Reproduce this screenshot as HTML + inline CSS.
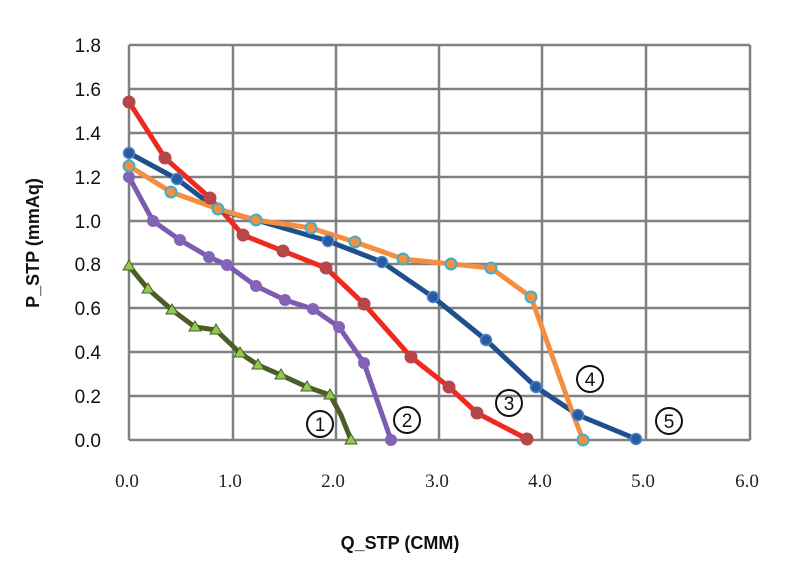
<!DOCTYPE html>
<html><head><meta charset="utf-8"><style>
html,body{margin:0;padding:0;background:#fff;}
svg{display:block;}
</style></head><body>
<svg width="800" height="583" viewBox="0 0 800 583" xmlns="http://www.w3.org/2000/svg">
<rect width="800" height="583" fill="#fff"/>
<g stroke="#808080" stroke-width="2.5" fill="none">
<line x1="129" y1="45" x2="750" y2="45"/>
<line x1="129" y1="89" x2="750" y2="89"/>
<line x1="129" y1="133" x2="750" y2="133"/>
<line x1="129" y1="177" x2="750" y2="177"/>
<line x1="129" y1="221" x2="750" y2="221"/>
<line x1="129" y1="264" x2="750" y2="264"/>
<line x1="129" y1="308" x2="750" y2="308"/>
<line x1="129" y1="352" x2="750" y2="352"/>
<line x1="129" y1="396" x2="750" y2="396"/>
<line x1="129" y1="440" x2="750" y2="440"/>
<line x1="129" y1="45" x2="129" y2="440"/>
<line x1="233" y1="45" x2="233" y2="440"/>
<line x1="336" y1="45" x2="336" y2="440"/>
<line x1="439" y1="45" x2="439" y2="440"/>
<line x1="542" y1="45" x2="542" y2="440"/>
<line x1="646" y1="45" x2="646" y2="440"/>
<line x1="750" y1="45" x2="750" y2="440"/>
</g>
<g font-family="Liberation Sans, sans-serif" font-size="19" fill="#111" text-anchor="end">
<text x="101" y="52">1.8</text><text x="101" y="96">1.6</text><text x="101" y="140">1.4</text>
<text x="101" y="184">1.2</text><text x="101" y="228">1.0</text><text x="101" y="271">0.8</text>
<text x="101" y="315">0.6</text><text x="101" y="359">0.4</text><text x="101" y="403">0.2</text>
<text x="101" y="447">0.0</text>
</g>
<g font-family="Liberation Serif, serif" font-size="19" fill="#222" text-anchor="middle">
<text x="127" y="487">0.0</text><text x="230" y="487">1.0</text><text x="333" y="487">2.0</text>
<text x="437" y="487">3.0</text><text x="540" y="487">4.0</text><text x="643" y="487">5.0</text><text x="747" y="487">6.0</text>
</g>
<text x="400" y="549" font-family="Liberation Sans, sans-serif" font-size="18" font-weight="bold" text-anchor="middle" fill="#111">Q_STP (CMM)</text>
<text transform="translate(39,243) rotate(-90)" font-family="Liberation Sans, sans-serif" font-size="18" font-weight="bold" text-anchor="middle" fill="#111">P_STP (mmAq)</text>

<g fill="none" stroke-width="5" stroke-linejoin="round" stroke-linecap="round">
<polyline stroke="#4a5e25" points="129,266 148,289 172,310 195,327 216,330 240,353 258,365 281,375 307,387 330,395 341,415 351,440"/>
<polyline stroke="#7c5bb0" points="129,177 153,221 180,240 209,257 227,265 256,286 285,300 313,309 339,327 364,363 391,440"/>
<polyline stroke="#ee2a1f" points="129,102 165,158 210,198 243,235 283,251 326,268 364,304 411,357 449,387 477,413 527,439"/>
<polyline stroke="#1f4f8c" points="129,153 177,179 218,210 256,220 328,241 382,262 433,297 486,340 536,387 578,415 636,439"/>
<polyline stroke="#f58f3f" points="129,166 171,192 218,209 256,220 311,228 355,242 403,259 451,264 491,268 531,297 573,414 583,440"/>
</g>
<g fill="#8fc94e" stroke="#4a5e25" stroke-width="1">
<path d="M129,260 l6,10 h-12z"/><path d="M148,283 l6,10 h-12z"/><path d="M172,304 l6,10 h-12z"/><path d="M195,321 l6,10 h-12z"/><path d="M216,324 l6,10 h-12z"/><path d="M240,347 l6,10 h-12z"/><path d="M258,359 l6,10 h-12z"/><path d="M281,369 l6,10 h-12z"/><path d="M307,381 l6,10 h-12z"/><path d="M330,389 l6,10 h-12z"/><path d="M351,434 l6,10 h-12z"/>
</g>
<g fill="#8263b8">
<circle cx="129" cy="177" r="6"/><circle cx="153" cy="221" r="6"/><circle cx="180" cy="240" r="6"/><circle cx="209" cy="257" r="6"/><circle cx="227" cy="265" r="6"/><circle cx="256" cy="286" r="6"/><circle cx="285" cy="300" r="6"/><circle cx="313" cy="309" r="6"/><circle cx="339" cy="327" r="6"/><circle cx="364" cy="363" r="6"/><circle cx="391" cy="440" r="6"/>
</g>
<g fill="#b5474a">
<circle cx="129" cy="102" r="6.5"/><circle cx="165" cy="158" r="6.5"/><circle cx="210" cy="198" r="6.5"/><circle cx="243" cy="235" r="6.5"/><circle cx="283" cy="251" r="6.5"/><circle cx="326" cy="268" r="6.5"/><circle cx="364" cy="304" r="6.5"/><circle cx="411" cy="357" r="6.5"/><circle cx="449" cy="387" r="6.5"/><circle cx="477" cy="413" r="6.5"/><circle cx="527" cy="439" r="6.5"/>
</g>
<g fill="#2a5aa0" stroke="#4a86cc" stroke-width="1.5">
<circle cx="129" cy="153" r="5.5"/><circle cx="177" cy="179" r="5.5"/><circle cx="328" cy="241" r="5.5"/><circle cx="382" cy="262" r="5.5"/><circle cx="433" cy="297" r="5.5"/><circle cx="486" cy="340" r="5.5"/><circle cx="536" cy="387" r="5.5"/><circle cx="578" cy="415" r="5.5"/><circle cx="636" cy="439" r="5.5"/>
</g>
<g fill="#f58f3f" stroke="#3fb0c8" stroke-width="2">
<circle cx="129" cy="166" r="5.5"/><circle cx="171" cy="192" r="5.5"/><circle cx="218" cy="209" r="5.5"/><circle cx="256" cy="220" r="5.5"/><circle cx="311" cy="228" r="5.5"/><circle cx="355" cy="242" r="5.5"/><circle cx="403" cy="259" r="5.5"/><circle cx="451" cy="264" r="5.5"/><circle cx="491" cy="268" r="5.5"/><circle cx="531" cy="297" r="5.5"/><circle cx="583" cy="440" r="5.5"/>
</g>
<g fill="none" stroke="#111" stroke-width="2">
<circle cx="320" cy="424" r="13"/><circle cx="407" cy="420" r="13"/><circle cx="509" cy="403" r="13"/><circle cx="590" cy="379" r="13"/><circle cx="669" cy="421" r="13"/>
</g>
<g font-family="Liberation Sans, sans-serif" font-size="19" fill="#111" text-anchor="middle">
<text x="320" y="431">1</text><text x="407" y="427">2</text><text x="509" y="410">3</text><text x="590" y="386">4</text><text x="669" y="428">5</text>
</g>
</svg>
</body></html>
